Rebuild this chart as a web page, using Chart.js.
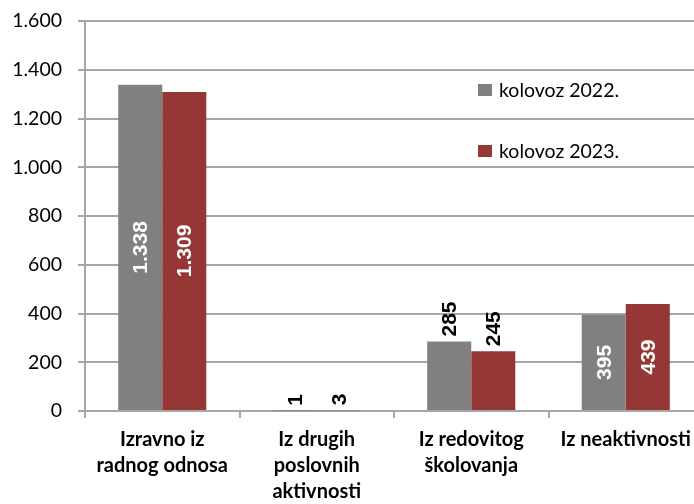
<!DOCTYPE html>
<html>
<head>
<meta charset="utf-8">
<script src="https://cdn.jsdelivr.net/npm/chart.js@4/dist/chart.umd.min.js"></script>
<style>
  html, body { margin: 0; padding: 0; background: #fff; overflow: hidden; }
  #wrap { position: relative; width: 712px; height: 504px; }
</style>
</head>
<body>
<div id="wrap"><canvas id="chart"></canvas></div>
<script>
const categories = [
  ['Izravno iz', 'radnog odnosa'],
  ['Iz drugih', 'poslovnih', 'aktivnosti'],
  ['Iz redovitog', 'školovanja'],
  ['Iz neaktivnosti']
];
const seriesNames = ['kolovoz 2022.', 'kolovoz 2023.'];
const values2022 = [1338, 1, 285, 395];
const values2023 = [1309, 3, 245, 439];
const yTicks = [0, 200, 400, 600, 800, 1000, 1200, 1400, 1600];

const GRAY = '#808080';
const RED = '#953735';
const GRID = '#a6a6a6';

const fmt = v => String(v).replace(/\B(?=(\d{3})+(?!\d))/g, '.');

// value labels, rotated like the original
const barLabels = {
  id: 'barLabels',
  afterDatasetsDraw(chart) {
    const ctx = chart.ctx;
    ctx.save();
    ctx.font = 'bold 21px "Liberation Sans", Arial, sans-serif';
    chart.data.datasets.forEach((ds, i) => {
      chart.getDatasetMeta(i).data.forEach((bar, j) => {
        const txt = fmt(ds.data[j]);
        const w = ctx.measureText(txt).width;
        const h = bar.base - bar.y;
        ctx.save();
        ctx.translate(bar.x, 0);
        ctx.rotate(-Math.PI / 2);
        ctx.textBaseline = 'middle';
        if (h >= w + 40) {
          ctx.fillStyle = '#fff';
          ctx.textAlign = 'center';
          ctx.fillText(txt, -(bar.y + h / 2), 1);
        } else {
          ctx.fillStyle = '#000';
          ctx.textAlign = 'left';
          ctx.fillText(txt, -(bar.y - 5), 1);
        }
        ctx.restore();
      });
    });
    ctx.restore();
  }
};

// legend placed inside the plot, right side
const innerLegend = {
  id: 'innerLegend',
  afterDraw(chart) {
    const ctx = chart.ctx;
    ctx.save();
    ctx.font = '19.5px Lato, "Open Sans", sans-serif';
    ctx.textBaseline = 'middle';
    chart.data.datasets.forEach((ds, i) => {
      const y = 90 + i * 61;
      ctx.fillStyle = ds.backgroundColor;
      ctx.fillRect(478, y - 6, 14, 12);
      ctx.fillStyle = '#000';
      ctx.fillText(ds.label, 499, y + 1);
    });
    ctx.restore();
  }
};

new Chart(document.getElementById('chart'), {
  type: 'bar',
  data: {
    labels: categories,
    datasets: [
      { label: seriesNames[0], data: values2022, backgroundColor: GRAY },
      { label: seriesNames[1], data: values2023, backgroundColor: RED }
    ]
  },
  options: {
    responsive: true,
    maintainAspectRatio: false,
    animation: false,
    categoryPercentage: 0.57,
    barPercentage: 1.0,
    layout: { padding: { top: 21, right: 9, left: 0, bottom: 0 } },
    plugins: { legend: { display: false }, tooltip: { enabled: false } },
    scales: {
      y: {
        min: 0,
        max: 1600,
        afterFit: s => { s.width = 85; s.paddingTop = 10; s.paddingBottom = 10; },
        afterBuildTicks: s => { s.ticks = yTicks.map(v => ({ value: v })); },
        border: { display: true, color: GRID, width: 2 },
        grid: { color: GRID, lineWidth: 2, tickLength: 7 },
        ticks: {
          color: '#000',
          padding: 16,
          font: { family: 'Lato, "Open Sans", sans-serif', size: 19.5 },
          callback: v => fmt(v)
        }
      },
      x: {
        afterFit: s => { s.height = 93; },
        border: { display: true, color: GRID, width: 2 },
        grid: { offset: true, drawOnChartArea: false, color: GRID, lineWidth: 2, tickLength: 7 },
        ticks: {
          color: '#000',
          padding: 9,
          maxRotation: 0,
          autoSkip: false,
          font: { family: 'Lato, "Open Sans", sans-serif', size: 20, weight: 'bold', lineHeight: 1.3 }
        }
      }
    }
  },
  plugins: [barLabels, innerLegend]
});
</script>
</body>
</html>
